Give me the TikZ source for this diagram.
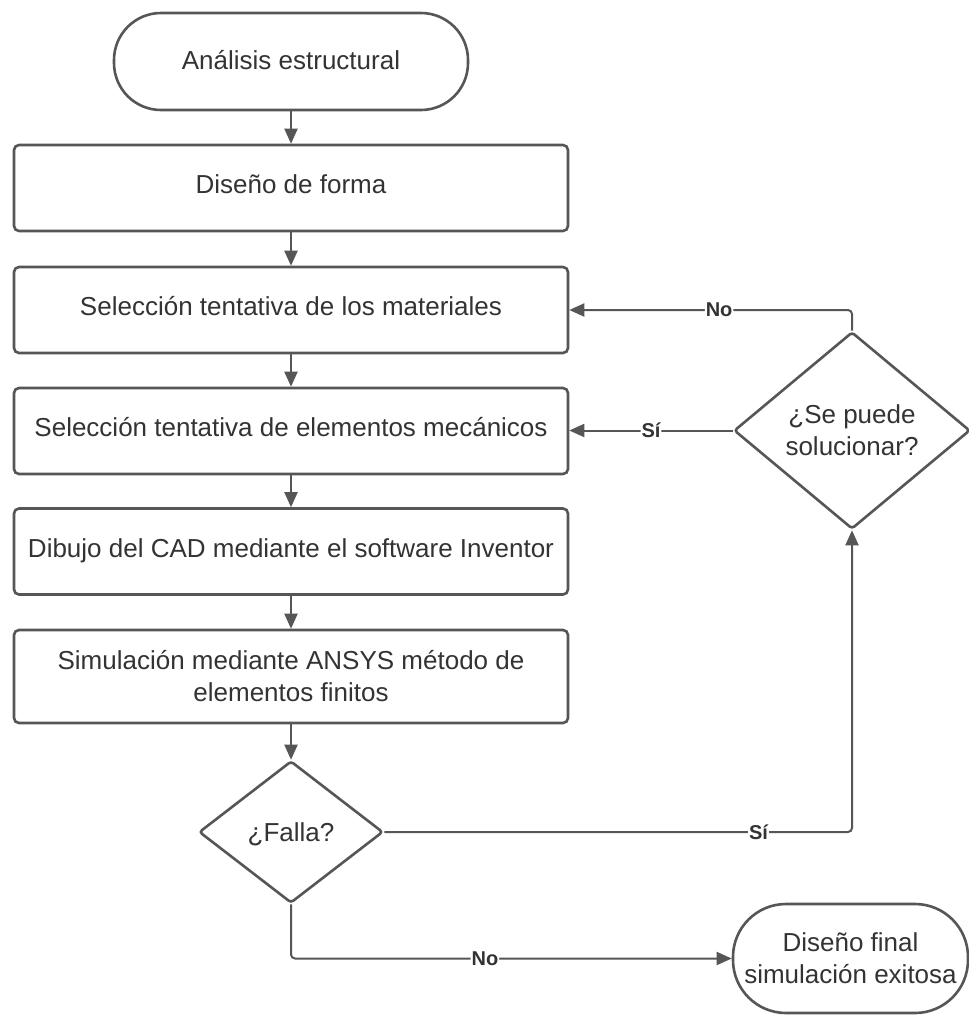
\documentclass[tikz,border=0pt]{standalone}
\usepackage{fontspec}
\setmainfont{Liberation Sans}
\usetikzlibrary{shapes.geometric,arrows.meta}
\definecolor{ln}{HTML}{565656}
\definecolor{tx}{HTML}{333333}
\begin{document}
\begin{tikzpicture}[x=1pt,y=-1pt,
  every node/.style={text=tx},
  base/.style={draw=ln, line width=2.6pt, inner sep=0pt, align=center, font=\fontsize{26}{32}\selectfont},
  proc/.style={base, rectangle, rounded corners=5pt, minimum width=554pt, minimum height=86pt},
  one/.style={text height=20pt, text depth=9pt},
  term/.style={base, rectangle},
  dec/.style={base, diamond, rounded corners=3pt},
  conn/.style={draw=ln, line width=2pt, -{Triangle[length=15pt,width=13pt]}, rounded corners=4pt},
  lab/.style={fill=white, inner sep=1pt, font=\bfseries\fontsize{20}{24}\selectfont}
]
\useasboundingbox[fill=white] (0,0) rectangle (969,1015);

\node[term, rounded corners=47pt, minimum width=354pt, minimum height=97pt, text height=20pt, text depth=5pt] (start) at (291,61.5) {Análisis estructural};
\node[proc, one] (b1) at (291,188) {Diseño de forma};
\node[proc, one] (b2) at (291,310) {Selección tentativa de los materiales};
\node[proc, one] (b3) at (291,431) {Selección tentativa de elementos mecánicos};
\node[proc, one] (b4) at (291,551.5) {Dibujo del CAD mediante el software Inventor};
\node[proc, minimum height=93pt] (b5) at (291,676.5) {Simulación mediante ANSYS método de\\elementos finitos};
\node[dec, minimum width=184pt, minimum height=142pt, text height=20pt, text depth=1pt] (fall) at (291,832) {¿Falla?};
\node[dec, minimum width=236pt, minimum height=197pt] (sp) at (852,430.5) {¿Se puede\\solucionar?};
\node[term, rounded corners=53pt, minimum width=235pt, minimum height=109pt] (fin) at (850.5,958.5) {Diseño final\\simulación exitosa};

\draw[conn] (start) -- (b1);
\draw[conn] (b1) -- (b2);
\draw[conn] (b2) -- (b3);
\draw[conn] (b3) -- (b4);
\draw[conn] (b4) -- (b5);
\draw[conn] (b5) -- (fall);
\draw[conn] (fall.east) -- node[lab, pos=0.8] {Sí} (fall.east -| sp.south) -- (sp.south);
\draw[conn] (sp.west) -- node[lab, pos=0.5] {Sí} (sp.west -| b3.east);
\draw[conn] (sp.north) -- (sp.north |- b2.east) -- node[lab, pos=0.47] {No} (b2.east);
\draw[conn] (fall.south) -- (fall.south |- fin.west) -- node[lab, pos=0.44] {No} (fin.west);
\end{tikzpicture}
\end{document}
